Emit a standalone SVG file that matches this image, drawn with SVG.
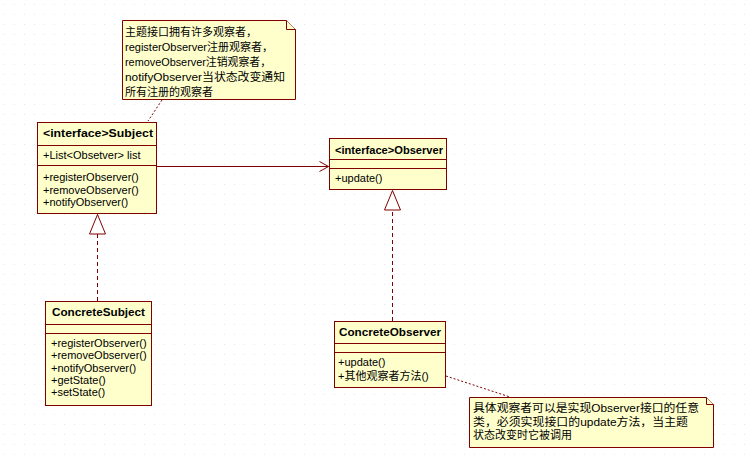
<svg xmlns="http://www.w3.org/2000/svg" width="752" height="462" viewBox="0 0 752 462">
<defs>
<pattern id="grid" width="10" height="10" patternUnits="userSpaceOnUse">
<rect x="4" y="4" width="1" height="1" fill="#e2e6ee"/>
</pattern>
<marker id="open" markerWidth="12" markerHeight="12" refX="10" refY="6" orient="auto" markerUnits="userSpaceOnUse">
<path d="M1,1 L10,6 L1,11" fill="none" stroke="#800000" stroke-width="1"/>
</marker>
<marker id="tri" markerWidth="22" markerHeight="18" refX="20" refY="8.5" orient="auto" markerUnits="userSpaceOnUse">
<path d="M0.5,0.5 L20,8.5 L0.5,16.5 Z" fill="#ffffff" stroke="#800000" stroke-width="1"/>
</marker>
</defs>
<style>
.box{fill:#ffffcc;stroke:#800000;stroke-width:1}
.div{stroke:#800000;stroke-width:1}
.note{fill:#ffffcc;stroke:#800000;stroke-width:1}
.t{font-family:"Liberation Sans","Noto Sans CJK SC",sans-serif;font-size:11px;fill:#000}
.b{font-family:"Liberation Sans","Noto Sans CJK SC",sans-serif;font-size:11px;font-weight:bold;fill:#000}
.n{font-family:"Liberation Sans","Noto Sans CJK SC",sans-serif;font-size:11px;fill:#000}
.edge{stroke:#800000;stroke-width:1;fill:none}
.dash{stroke:#800000;stroke-width:1;fill:none;stroke-dasharray:4,3}
.dot{stroke:#800000;stroke-width:1;fill:none;stroke-dasharray:2,2}
</style>
<rect width="752" height="462" fill="#ffffff"/>
<rect width="752" height="462" fill="url(#grid)"/>

<g id="connectors">
<line class="edge" x1="156.5" y1="166.5" x2="328.5" y2="166.5" marker-end="url(#open)"/>
<line class="dash" x1="97.5" y1="301" x2="97.5" y2="214.5" marker-end="url(#tri)"/>
<line class="dash" x1="392.5" y1="321" x2="392.5" y2="190.5" marker-end="url(#tri)"/>
<line class="dot" x1="162" y1="100" x2="148" y2="121"/>
<line class="dot" x1="446" y1="376" x2="510" y2="397"/>
</g>

<g id="note1">
<path class="note" d="M122.5,20.5 H286.5 L295.5,29.5 V99.5 H122.5 Z"/>
<path class="note" d="M286.5,20.5 V29.5 H295.5" fill="none"/>
<text class="n" x="125" y="35.5">主题接口拥有许多观察者，</text>
<text class="n" x="125" y="50.5" textLength="148" lengthAdjust="spacingAndGlyphs">registerObserver注册观察者，</text>
<text class="n" x="125" y="65.5" textLength="146" lengthAdjust="spacingAndGlyphs">removeObserver注销观察者，</text>
<text class="n" x="125" y="80.5" textLength="160" lengthAdjust="spacingAndGlyphs">notifyObserver当状态改变通知</text>
<text class="n" x="125" y="95.5">所有注册的观察者</text>
</g>

<g id="subject">
<rect class="box" x="37.5" y="122.5" width="119" height="91"/>
<line class="div" x1="37.5" y1="145.5" x2="156.5" y2="145.5"/>
<line class="div" x1="37.5" y1="165.5" x2="156.5" y2="165.5"/>
<text class="b" x="43" y="137" textLength="110" lengthAdjust="spacingAndGlyphs">&lt;interface&gt;Subject</text>
<text class="t" x="43" y="159">+List&lt;Obsetver&gt; list</text>
<text class="t" x="43" y="181">+registerObserver()</text>
<text class="t" x="43" y="193.5">+removeObserver()</text>
<text class="t" x="43" y="206">+notifyObserver()</text>
</g>

<g id="observer">
<rect class="box" x="329.5" y="138.5" width="117" height="51"/>
<line class="div" x1="329.5" y1="159.5" x2="446.5" y2="159.5"/>
<line class="div" x1="329.5" y1="168.5" x2="446.5" y2="168.5"/>
<text class="b" x="335" y="154" textLength="108" lengthAdjust="spacingAndGlyphs">&lt;interface&gt;Observer</text>
<text class="t" x="335" y="182">+update()</text>
</g>

<g id="concreteSubject">
<rect class="box" x="45.5" y="301.5" width="106" height="104"/>
<line class="div" x1="45.5" y1="324.5" x2="151.5" y2="324.5"/>
<line class="div" x1="45.5" y1="333.5" x2="151.5" y2="333.5"/>
<text class="b" x="98.5" y="316" text-anchor="middle" textLength="93" lengthAdjust="spacingAndGlyphs">ConcreteSubject</text>
<text class="t" x="51" y="347">+registerObserver()</text>
<text class="t" x="51" y="359.3">+removeObserver()</text>
<text class="t" x="51" y="371.6">+notifyObserver()</text>
<text class="t" x="51" y="383.9">+getState()</text>
<text class="t" x="51" y="396.2">+setState()</text>
</g>

<g id="concreteObserver">
<rect class="box" x="334.5" y="321.5" width="111" height="66"/>
<line class="div" x1="334.5" y1="343.5" x2="445.5" y2="343.5"/>
<line class="div" x1="334.5" y1="352.5" x2="445.5" y2="352.5"/>
<text class="b" x="390" y="336" text-anchor="middle" textLength="102" lengthAdjust="spacingAndGlyphs">ConcreteObserver</text>
<text class="t" x="338" y="366">+update()</text>
<text class="t" x="338" y="379.5">+其他观察者方法()</text>
</g>

<g id="note2">
<path class="note" d="M469.5,397.5 H706.5 L713.5,404.5 V447.5 H469.5 Z"/>
<path class="note" d="M706.5,397.5 V404.5 H713.5" fill="none"/>
<text class="n" x="473" y="412" textLength="226" lengthAdjust="spacingAndGlyphs">具体观察者可以是实现Observer接口的任意</text>
<text class="n" x="473" y="425.5" textLength="215" lengthAdjust="spacingAndGlyphs">类，必须实现接口的update方法，当主题</text>
<text class="n" x="473" y="439">状态改变时它被调用</text>
</g>
</svg>
